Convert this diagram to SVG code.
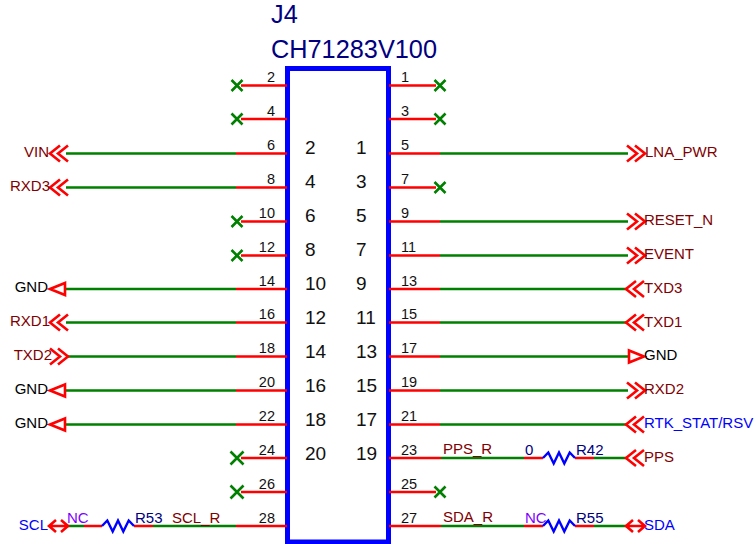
<svg xmlns="http://www.w3.org/2000/svg" width="756" height="544" viewBox="0 0 756 544">
<style>
text{font-family:"Liberation Sans",Arial,sans-serif}
.r{stroke:#ff0000;stroke-width:2.4;fill:none}
.g{stroke:#008000;stroke-width:2.6;fill:none}
.b{stroke:#0000ff;stroke-width:2.4;fill:none}
.ah{stroke:#ff0000;stroke-width:2.6;fill:none}
.x{stroke:#008000;stroke-width:2.6;fill:none}
.pin{font-size:14.5px;fill:#111}
.in{font-size:19px;fill:#111}
.lb{font-size:15px}
.net{fill:#7f0000}.gnd{fill:#000}.io{fill:#0000ff}.nc{fill:#8000ff;font-size:15px}.ref{fill:#000080;font-size:15px}
.title{font-size:25.300px;fill:#000080}
</style>
<defs>
<path id="ll" class="ah" d="M11 -8L1 0L11 8M19 -8L9 0L19 8"/>
<path id="rr" class="ah" d="M0 -8L10 0L0 8M8 -8L18 0L8 8"/>
<path id="tl" class="ah" d="M1 0L16 -6V6Z"/>
<path id="tr" class="ah" d="M15 0L0 -6V6Z"/>
<path id="dia" class="ah" d="M7 -6L0 0L7 6M12 -6L19 0L12 6M0 0H19"/>
<path id="nx" class="x" d="M-5.500 -5.500L5.500 5.500M-5.500 5.500L5.500 -5.500"/>
<path id="nxb" class="x" d="M-6.500 -6.500L6.500 6.500M-6.500 6.500L6.500 -6.500"/>
<path id="res" class="b" d="M0 0L5.300 -5.500L10.700 5.500L16 -5.500L21.300 5.500L26.700 -5.500L32 0"/>
</defs>
<g id="J4">
<rect x="287.500" y="68.500" width="101" height="473.500" fill="none" stroke="#0000ff" stroke-width="5"/>
<text class="title" x="271" y="23">J4</text>
<text class="title" x="271" y="58">CH71283V100</text>
<g class="in">
<text x="305" y="154">2</text><text x="305" y="188">4</text><text x="305" y="222">6</text><text x="305" y="256">8</text>
<text x="305" y="290">10</text><text x="305" y="324">12</text><text x="305" y="358">14</text><text x="305" y="392">16</text><text x="305" y="426">18</text><text x="305" y="460">20</text>
<text x="356" y="154">1</text><text x="356" y="188">3</text><text x="356" y="222">5</text><text x="356" y="256">7</text>
<text x="356" y="290">9</text><text x="356" y="324">11</text><text x="356" y="358">13</text><text x="356" y="392">15</text><text x="356" y="426">17</text><text x="356" y="460">19</text>
</g>
<g class="pin" text-anchor="end">
<text x="275" y="82">2</text><text x="275" y="116">4</text><text x="275" y="150">6</text><text x="275" y="184">8</text><text x="275" y="218">10</text><text x="275" y="252">12</text><text x="275" y="286">14</text><text x="275" y="319">16</text><text x="275" y="353">18</text><text x="275" y="387">20</text><text x="275" y="421">22</text><text x="275" y="455">24</text><text x="275" y="489">26</text><text x="275" y="523">28</text>
</g>
<g class="pin">
<text x="401" y="82">1</text><text x="401" y="116">3</text><text x="401" y="150">5</text><text x="401" y="184">7</text><text x="401" y="218">9</text><text x="401" y="252">11</text><text x="401" y="286">13</text><text x="401" y="319">15</text><text x="401" y="353">17</text><text x="401" y="387">19</text><text x="401" y="421">21</text><text x="401" y="455">23</text><text x="401" y="489">25</text><text x="401" y="523">27</text>
</g>
</g>
<g id="connectors">
<path class="g" d="M66 153.500H236M66 187.500H236M66 289H236M66 322.500H236M66 356.500H236M66 390.500H236M66 424.500H236M68 526H84M153 526H236"/>
<path class="r" d="M241 85.500H287M241 119H287M236 153.500H287M236 187.500H287M241 221.500H287M241 255.500H287M236 289H287M236 322.500H287M236 356.500H287M236 390.500H287M236 424.500H287M241 458H287M241 492H287M236 526H287M84 526H102M134 526H153"/>
<path class="g" d="M440 153.500H628M440 221.500H628M440 255.500H628M440 289H628M440 322.500H628M440 356.500H630M440 390.500H628M440 424.500H628M441 458H524M594 458H628M441 526H524M594 526H628"/>
<path class="r" d="M389 85.500H436M389 119H436M389 153.500H440M389 187.500H436M389 221.500H440M389 255.500H440M389 289H440M389 322.500H440M389 356.500H440M389 390.500H440M389 424.500H440M389 458H441M389 492H436M389 526H441M524 458H543M575 458H594M524 526H543M575 526H594"/>
</g>
<g id="nc-marks">
<use href="#nx" x="237" y="85.500"/><use href="#nx" x="237" y="119"/><use href="#nx" x="237" y="221.500"/><use href="#nx" x="237" y="255.500"/>
<use href="#nxb" x="237" y="458"/><use href="#nxb" x="237" y="492"/>
<use href="#nx" x="440" y="85.500"/><use href="#nx" x="440" y="119"/><use href="#nx" x="440" y="187.500"/><use href="#nx" x="440" y="492"/>
</g>
<g id="R53"><use href="#res" x="102" y="526"/><text class="nc" x="67" y="523">NC</text><text class="ref" x="135" y="523">R53</text><text class="lb net" x="172" y="523">SCL_R</text></g>
<g id="R42"><use href="#res" x="543" y="458"/><text class="ref" x="525" y="455">0</text><text class="ref" x="576" y="455">R42</text><text class="lb net" x="443" y="454">PPS_R</text></g>
<g id="R55"><use href="#res" x="543" y="526"/><text class="nc" x="525" y="523">NC</text><text class="ref" x="576" y="523">R55</text><text class="lb net" x="443" y="522">SDA_R</text></g>
<g id="VIN"><use href="#ll" x="49" y="153.500"/><text class="lb net" x="49" y="157" text-anchor="end">VIN</text></g>
<g id="RXD3"><use href="#ll" x="49" y="187.500"/><text class="lb net" x="50" y="191" text-anchor="end">RXD3</text></g>
<g id="GND1"><use href="#tl" x="49" y="289"/><text class="lb gnd" x="48" y="292" text-anchor="end">GND</text></g>
<g id="RXD1"><use href="#ll" x="49" y="322.500"/><text class="lb net" x="50" y="326" text-anchor="end">RXD1</text></g>
<g id="TXD2"><use href="#rr" x="50" y="356.500"/><text class="lb net" x="52" y="360" text-anchor="end">TXD2</text></g>
<g id="GND2"><use href="#tl" x="49" y="390.500"/><text class="lb gnd" x="48" y="394" text-anchor="end">GND</text></g>
<g id="GND3"><use href="#tl" x="49" y="424.500"/><text class="lb gnd" x="48" y="428" text-anchor="end">GND</text></g>
<g id="SCL"><use href="#dia" x="49" y="526"/><text class="lb io" x="48" y="530" text-anchor="end">SCL</text></g>
<g id="LNA_PWR"><use href="#rr" x="627" y="153.500"/><text class="lb net" x="645" y="157">LNA_PWR</text></g>
<g id="RESET_N"><use href="#rr" x="627" y="221.500"/><text class="lb net" x="644" y="225">RESET_N</text></g>
<g id="EVENT"><use href="#rr" x="627" y="255.500"/><text class="lb net" x="644" y="259">EVENT</text></g>
<g id="TXD3"><use href="#ll" x="625" y="289"/><text class="lb net" x="644" y="293">TXD3</text></g>
<g id="TXD1"><use href="#ll" x="625" y="322.500"/><text class="lb net" x="644" y="327">TXD1</text></g>
<g id="GND4"><use href="#tr" x="629" y="356.500"/><text class="lb gnd" x="644" y="360">GND</text></g>
<g id="RXD2"><use href="#rr" x="627" y="390.500"/><text class="lb net" x="644" y="394">RXD2</text></g>
<g id="RTK"><use href="#ll" x="625" y="424.500"/><text class="lb io" x="644" y="428">RTK_STAT/RSV</text></g>
<g id="PPS"><use href="#ll" x="625" y="458"/><text class="lb net" x="644" y="462">PPS</text></g>
<g id="SDA"><use href="#dia" x="626" y="526"/><text class="lb io" x="644" y="530">SDA</text></g>
</svg>
